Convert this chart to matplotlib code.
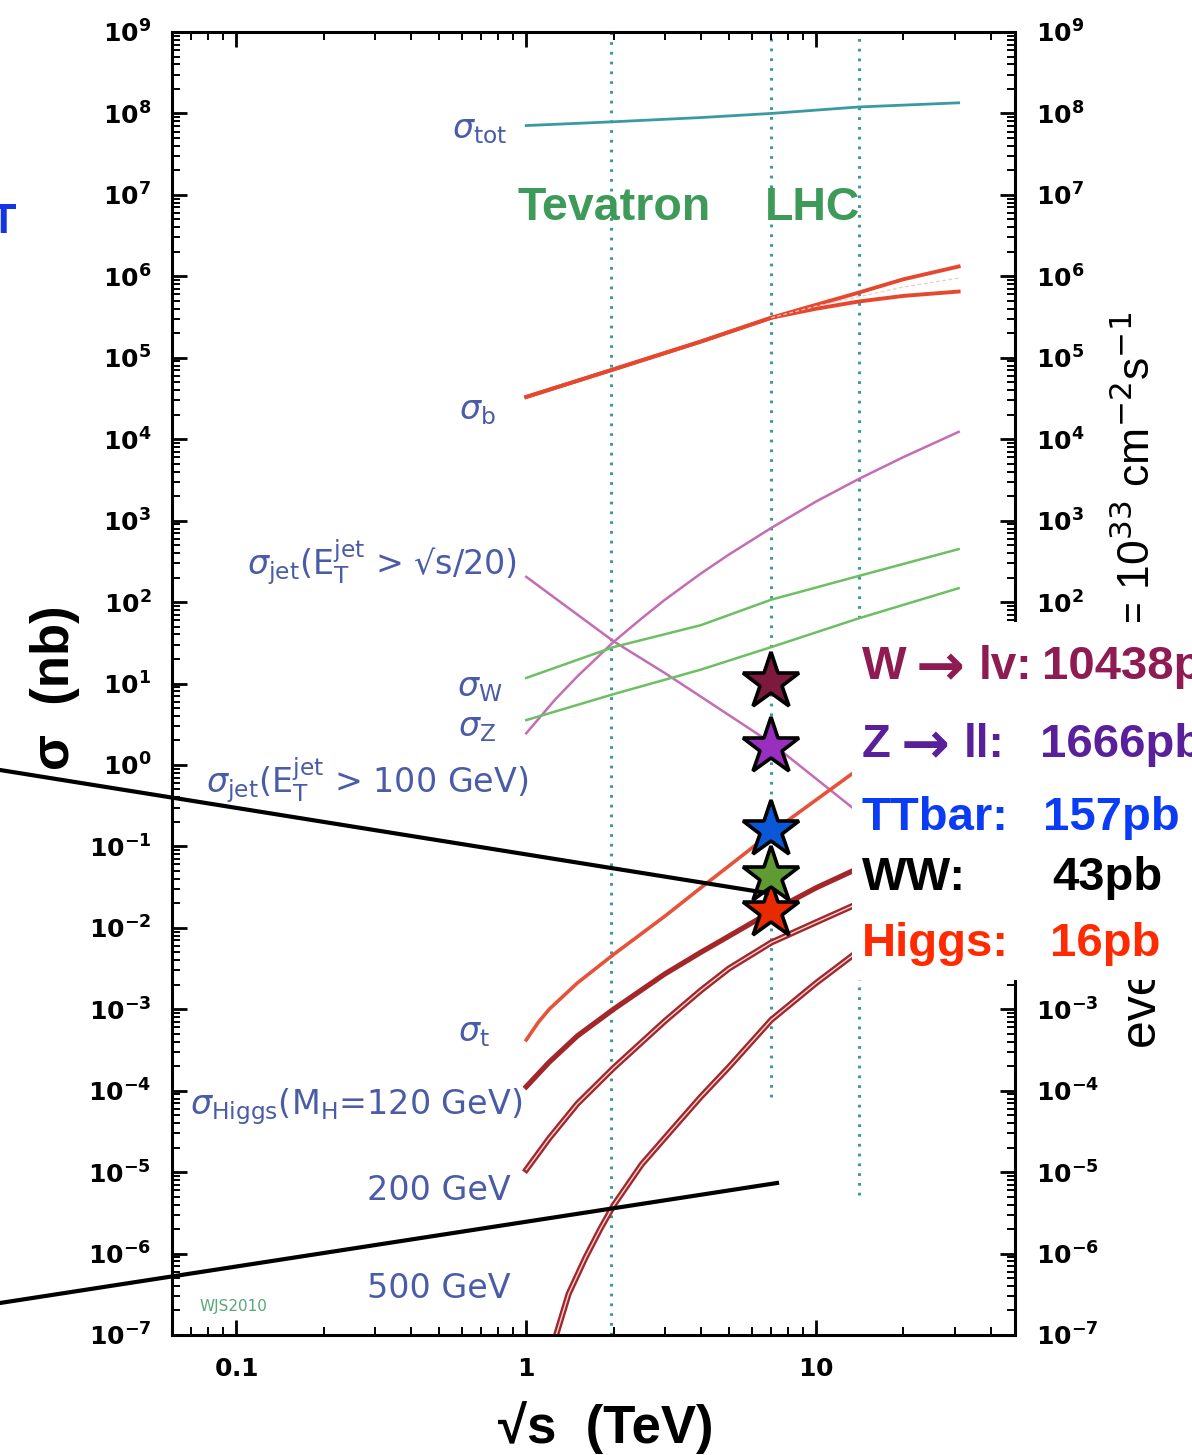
import numpy as np
import matplotlib.pyplot as plt
from matplotlib.patches import Rectangle
from matplotlib.lines import Line2D
from matplotlib.ticker import LogLocator, FuncFormatter, NullFormatter

W_PX, H_PX = 1192, 1455

# sqrt(s) in TeV, cross sections in nb
tot_x = [1.0, 2.0, 4.0, 7.0, 14.0, 31.0]
tot_y = [7.1e7, 7.9e7, 8.9e7, 1.0e8, 1.2e8, 1.35e8]

b_x = [1.0, 2.0, 4.0, 7.0, 10.0, 14.0, 20.0, 31.0]
b_hi = [3.3e4, 7.2e4, 1.58e5, 3.1e5, 4.47e5, 6.3e5, 9.2e5, 1.32e6]
b_lo = [3.3e4, 7.2e4, 1.58e5, 3.1e5, 4.0e5, 4.9e5, 5.75e5, 6.5e5]
b_mid_x = [7.0, 10.0, 14.0, 20.0, 31.0]
b_mid = [3.1e5, 4.3e5, 5.6e5, 7.4e5, 9.5e5]

jet20_x = [1.0, 2.0, 3.0, 4.0, 7.0, 14.0, 31.0]
jet20_y = [204, 33, 13.5, 6.9, 1.86, 0.26, 0.032]

jet100_x = [1.0, 1.26, 1.5, 2.0, 2.5, 3.0, 4.0, 5.0, 7.0, 10.0, 14.0, 20.0, 31.0]
jet100_y = [2.45, 6.4, 12.2, 32.4, 63, 106, 224, 383, 813, 1720, 3240, 6030, 12300]

wz_x = [1.0, 2.0, 4.0, 7.0, 14.0, 31.0]
w_y = [11.7, 28, 52, 107, 209, 447]
z_y = [3.55, 7.4, 14.8, 28, 63, 148]

top_x = [1.0, 1.1, 1.2, 1.5, 2.0, 3.0, 4.0, 5.0, 6.0, 7.0, 14.0, 31.0]
top_y = [4.2e-4, 6.9e-4, 1.0e-3, 2.1e-3, 4.7e-3, 0.0138, 0.031, 0.0575, 0.0955,
         0.148, 0.89, 4.0]

h_x = [1.0, 1.2, 1.5, 2.0, 3.0, 4.0, 5.0, 7.0, 10.0, 14.0, 20.0, 31.0]
h120_y = [1.12e-4, 2.24e-4, 4.7e-4, 1.0e-3, 2.7e-3, 5.0e-3, 7.9e-3, 0.0158,
          0.031, 0.054, 0.093, 0.16]
h200_y = [1.07e-5, 2.6e-5, 6.9e-5, 1.9e-4, 7.1e-4, 1.7e-3, 3.16e-3, 6.6e-3,
          0.0117, 0.020, 0.033, 0.063]

h500_x = [1.2, 1.26, 1.4, 1.6, 1.8, 2.0, 2.5, 3.2, 4.0, 5.0, 7.0, 10.0, 14.0, 31.0]
h500_y = [5.0e-8, 9.3e-8, 3.2e-7, 8.9e-7, 2.0e-6, 3.9e-6, 1.24e-5, 3.4e-5,
          8.4e-5, 1.95e-4, 7.4e-4, 2.1e-3, 5.2e-3, 0.035]

# collider energies and where their dotted markers stop
collider_x = [1.96, 7.0, 14.0]
collider_lo = [1e-7, 8.3e-5, 5.2e-6]

# measured LHC 7 TeV points
star_sqrts = 7.0
star_pb = [10438, 1666, 157, 43, 16]
star_face = ['#7b1a3c', '#9a2fbf', '#0a58d8', '#5f9a32', '#e82a00']
star_textcol = ['#8e1b52', '#5a1f9a', '#0a3cf5', '#000000', '#ff2a00']
# process name pieces: (particle, decay) -- rows without a decay have no arrow
star_proc = [('W', 'lv:'), ('Z', 'll:'), ('TTbar:', None), ('WW:', None),
             ('Higgs:', None)]
star_texts = ['10438pb', '1666pb', '157pb', '43pb', '16pb']


def fx(px):
    return px / W_PX


def fy(py):
    return 1 - py / H_PX


fig = plt.figure(figsize=(W_PX / 100, H_PX / 100), dpi=100)
ax = fig.add_axes([fx(172), fy(1335), fx(1015) - fx(172), fy(32) - fy(1335)])
ax.set_xscale('log')
ax.set_yscale('log')
ax.set_xlim(0.06, 48.5)
ax.set_ylim(1e-7, 1e9)

# collider lines
dots = (0, (0.9, 2.3))
for xc, lo in zip(collider_x, collider_lo):
    ax.plot([xc, xc], [lo, 1e9], color='#3c9a9c', lw=2.2, ls=dots, zorder=1)

blue_lab = '#4a5ca8'
red = '#e5482e'
dred = '#a3262a'
magenta = '#c46cb4'
green = '#6cbf63'

ax.plot(tot_x, tot_y, color='#3a9aa2', lw=2.0)
ax.plot(b_x, b_hi, color=red, lw=2.8)
ax.plot(b_x, b_lo, color=red, lw=2.8)
ax.plot(b_mid_x, b_mid, color='#f3c9c0', lw=0.9, ls=(0, (3, 2)))
ax.plot(jet20_x, jet20_y, color=magenta, lw=1.8)
ax.plot(jet100_x, jet100_y, color=magenta, lw=1.8)
ax.plot(wz_x, w_y, color=green, lw=1.8)
ax.plot(wz_x, z_y, color=green, lw=1.8)
ax.plot(top_x, top_y, color='#e5533a', lw=2.6)
ax.plot(h_x, h120_y, color=dred, lw=3.8)
ax.plot(h_x, h200_y, color=dred, lw=4.4)
ax.plot(h_x, h200_y, color='#f3d6d6', lw=1.0)
ax.plot(h500_x, h500_y, color=dred, lw=4.4)
ax.plot(h500_x, h500_y, color='#f3d6d6', lw=1.0)

for i in reversed(range(len(star_pb))):
    ax.plot(star_sqrts, star_pb[i] / 1000.0, marker='*', ms=43, mfc=star_face[i],
            mec='black', mew=2.6, ls='none', zorder=6, clip_on=False)

# axes frame and ticks
for sp in ax.spines.values():
    sp.set_linewidth(2.2)
ax.xaxis.set_major_locator(LogLocator(base=10, numticks=20))
ax.xaxis.set_minor_locator(LogLocator(base=10, subs=np.arange(2, 10), numticks=100))
ax.yaxis.set_major_locator(LogLocator(base=10, numticks=30))
ax.yaxis.set_minor_locator(LogLocator(base=10, subs=np.arange(2, 10), numticks=200))
ax.xaxis.set_minor_formatter(NullFormatter())
ax.yaxis.set_minor_formatter(NullFormatter())
ax.xaxis.set_major_formatter(FuncFormatter(lambda v, p: r'$\mathbf{%g}$' % v))
ax.yaxis.set_major_formatter(FuncFormatter(
    lambda v, p: r'$\mathbf{10^{%d}}$' % int(round(np.log10(v)))))
ax.tick_params(which='both', direction='in', top=True, right=True,
               labelright=True, labelsize=18)
ax.tick_params(which='major', length=11, width=2.0)
ax.tick_params(which='minor', length=6, width=1.4)
ax.tick_params(axis='y', which='major', pad=15)
ax.tick_params(axis='x', which='major', pad=16)

# curve labels
def lab(px, py, s, ha='right', size=24, color=blue_lab, **kw):
    fig.text(fx(px), fy(py), s, ha=ha, va='center', fontsize=size, color=color, **kw)


lab(507, 130, r'$\sigma_{\rm tot}$')
lab(496, 411, r'$\sigma_{\rm b}$')
lab(517, 563, r'$\sigma_{\rm jet}$(E$_{\rm T}^{\rm jet}$ > √s/20)')
lab(502, 688, r'$\sigma_{\rm W}$')
lab(496, 728, r'$\sigma_{\rm Z}$')
lab(528, 781, r'$\sigma_{\rm jet}$(E$_{\rm T}^{\rm jet}$ > 100 GeV)')
lab(490, 1032, r'$\sigma_{\rm t}$')
lab(522, 1107, r'$\sigma_{\rm Higgs}$(M$_{\rm H}$=120 GeV)')
lab(511, 1190, '200 GeV')
lab(511, 1288, '500 GeV')
lab(200, 1307, 'WJS2010', ha='left', size=11, color='#58a878')

sans = ['Liberation Sans', 'DejaVu Sans']
lab(518, 208, 'Tevatron', ha='left', size=33.5, color='#3e9a58', family=sans,
    fontweight='bold')
lab(765, 208, 'LHC', ha='left', size=33.5, color='#3e9a58', family=sans,
    fontweight='bold')

# axis titles
fig.text(fx(606), fy(1428), '√s  (TeV)', ha='center', va='center', fontsize=38,
         fontweight='bold', family=sans)
fig.text(fx(55), fy(688), 'σ  (nb)', ha='center', va='center', fontsize=38,
         fontweight='bold', family=sans, rotation=90)
# right-hand rate axis title, in two pieces
fig.text(fx(1143), fy(1048), 'events / sec  for L', ha='center', va='bottom',
         rotation=90, fontsize=36, family=sans)
fig.text(fx(1137), fy(628), r'= 10$^{33}$ cm$^{-2}$s$^{-1}$', ha='center',
         va='bottom', rotation=90, fontsize=32, family=sans)
fig.text(fx(3), fy(222), 'T', ha='center', va='center', fontsize=30,
         fontweight='bold', color='#1434e6', family=sans)

# white panel with the 7 TeV numbers
fig.add_artist(Rectangle((fx(852), fy(980)), fx(1192) - fx(852), fy(622) - fy(980),
                         transform=fig.transFigure, fc='white', ec='none', zorder=5))
row_y = [667, 745, 818, 878, 944]
val_x = [1042, 1040, 1043, 1052, 1050]
arrow_x = [916, 901]
decay_x = [979, 964]
for i, (proc, val, col, py, vx) in enumerate(zip(star_proc, star_texts, star_textcol,
                                                   row_y, val_x)):
    kw = dict(va='center', fontsize=34, fontweight='bold', color=col, zorder=6)
    fig.text(fx(862), fy(py), proc[0], ha='left', family=sans, **kw)
    if proc[1] is not None:
        fig.text(fx(arrow_x[i]), fy(py + 2), '\u2192', ha='left', family='DejaVu Sans',
                 **dict(kw, fontsize=42))
        fig.text(fx(decay_x[i]), fy(py), proc[1], ha='left', family=sans,
                 **dict(kw, fontsize=33))
    fig.text(fx(vx), fy(py), val, ha='left', family=sans, **kw)

# pointer strokes
for (x0, y0), (x1, y1) in [((0, 770), (767, 893)), ((0, 1303), (777, 1183))]:
    fig.add_artist(Line2D([fx(x0), fx(x1)], [fy(y0), fy(y1)], transform=fig.transFigure,
                          color='black', lw=3.0, zorder=7))

fig.savefig('out.png', dpi=100)
